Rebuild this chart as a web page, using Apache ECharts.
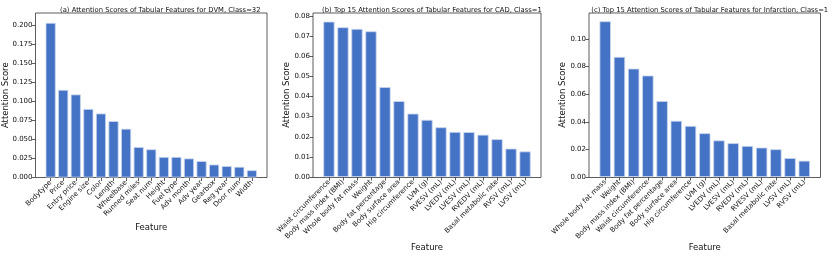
<!DOCTYPE html>
<html><head><meta charset="utf-8">
<script src="https://cdn.jsdelivr.net/npm/echarts@6/dist/echarts.min.js"></script>
<style>html,body{margin:0;padding:0;background:#fff}#c{width:831px;height:257px}</style>
</head><body><div id="c"></div>
<script>
const titleA = '(a) Attention Scores of Tabular Features for DVM, Class=32';
const titleB = '(b) Top 15 Attention Scores of Tabular Features for CAD, Class=1';
const titleC = '(c) Top 15 Attention Scores of Tabular Features for Infarction, Class=1';
const catsA = ['Bodytype','Price','Entry price','Engine size','Color','Length','Wheelbase','Runned miles','Seat num','Height','Fuel type','Adv month','Adv year','Gearbox','Reg year','Door num','Width'];
const valsA = [0.203,0.115,0.109,0.090,0.084,0.074,0.064,0.040,0.037,0.027,0.027,0.025,0.0215,0.017,0.015,0.014,0.0095];
const catsB = ['Waist circumference','Body mass index (BMI)','Whole body fat mass','Weight','Body fat percentage','Body surface area','Hip circumference','LVM (g)','RVESV (mL)','LVEDV (mL)','LVESV (mL)','RVEDV (mL)','Basal metabolic rate','RVSV (mL)','LVSV (mL)'];
const valsB = [0.0772,0.0744,0.0736,0.0724,0.0447,0.0377,0.0315,0.0284,0.0247,0.0224,0.0223,0.0210,0.0188,0.0141,0.0127];
const catsC = ['Whole body fat mass','Weight','Body mass index (BMI)','Waist circumference','Body fat percentage','Body surface area','Hip circumference','LVM (g)','LVEDV (mL)','LVESV (mL)','RVEDV (mL)','RVESV (mL)','Basal metabolic rate','LVSV (mL)','RVSV (mL)'];
const valsC = [0.1128,0.0870,0.0785,0.0735,0.0550,0.0407,0.0370,0.0317,0.0265,0.0245,0.0225,0.0213,0.0201,0.0137,0.0118];
const ticksA = [0,0.025,0.05,0.075,0.1,0.125,0.15,0.175,0.2];
const ticksB = [0,0.01,0.02,0.03,0.04,0.05,0.06,0.07,0.08];
const ticksC = [0,0.02,0.04,0.06,0.08,0.1];
const yName = 'Attention Score', xName = 'Feature';

const FONT = 'DejaVu Sans';
const panels = [
  {title:titleA, cats:catsA, vals:valsA, ticks:ticksA, dec:3, max:0.216, L:35.5, R:267, inset:8.85, xGap:46},
  {title:titleB, cats:catsB, vals:valsB, ticks:ticksB, dec:2, max:0.0815, L:313, R:541, inset:8.96, xGap:66},
  {title:titleC, cats:catsC, vals:valsC, ticks:ticksC, dec:2, max:0.1188, L:589, R:820.5, inset:9.1, xGap:66}
];
const TOP = 13, BOT = 177.5;
const grid = [], xAxis = [], yAxis = [], series = [], title = [];
panels.forEach((p, i) => {
  const W = p.R - p.L, H = BOT - TOP;
  grid.push({left:p.L, top:TOP, width:W, height:H, show:true, borderColor:'#333', borderWidth:0.8, backgroundColor:'transparent'});
  xAxis.push({type:'value', gridIndex:2*i, show:false, min:0, max:1});
  yAxis.push({type:'value', gridIndex:2*i, show:false, min:0, max:1});
  grid.push({left:p.L + p.inset, top:TOP, width:W - 2*p.inset, height:H});
  xAxis.push({type:'category', gridIndex:2*i+1, data:p.cats,
    axisLine:{show:false},
    axisTick:{show:true, alignWithLabel:true, length:3.5, lineStyle:{color:'#333', width:0.8}},
    axisLabel:{rotate:45, interval:0, fontSize:7, fontFamily:FONT, color:'#111', margin:4},
    name:xName, nameLocation:'middle', nameGap:p.xGap, nameMoveOverlap:false,
    nameTextStyle:{fontSize:8.5, fontFamily:FONT, color:'#111'}});
  yAxis.push({type:'value', gridIndex:2*i+1, min:0, max:p.max, offset:p.inset,
    axisLine:{show:false}, splitLine:{show:false},
    axisTick:{show:true, length:3.5, lineStyle:{color:'#333', width:0.8}, customValues:p.ticks},
    axisLabel:{fontSize:7, fontFamily:FONT, color:'#111', margin:3, customValues:p.ticks,
      formatter:v => v.toFixed(p.dec)},
    name:yName, nameLocation:'middle', nameRotate:90, nameGap: i===0 ? 25 : 22, nameMoveOverlap:false,
    nameTextStyle:{fontSize:8.5, fontFamily:FONT, color:'#111'}});
  series.push({type:'bar', xAxisIndex:2*i+1, yAxisIndex:2*i+1, data:p.vals, barWidth:'80%',
    itemStyle:{color:'#4472c4', borderColor:'#c9d6ef', borderWidth:0.8}, animation:false});
  title.push({text:p.title, left:(p.L+p.R)/2 + (i===0 ? 4 : 0), top:2, textAlign:'center',
    textStyle:{fontSize:6.8, fontWeight:'normal', fontFamily:FONT, color:'#111'}});
});
const chart = echarts.init(document.getElementById('c'), null, {renderer:'canvas'});
chart.setOption({animation:false, backgroundColor:'#fff', title, grid, xAxis, yAxis, series});
</script></body></html>
